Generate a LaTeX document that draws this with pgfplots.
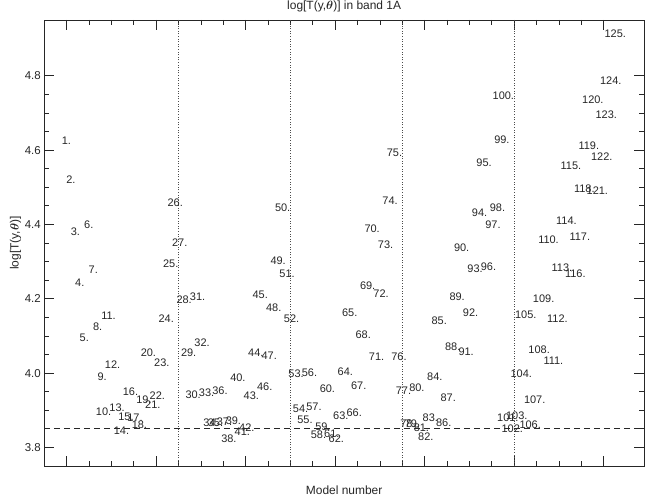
\documentclass[border=0pt]{standalone}
\usepackage{pgfplots}
\pgfplotsset{compat=1.18}
\usepackage{pgfplotstable}
\usepackage{amsmath}
\usepackage{fontspec}
\setmainfont{Liberation Sans}
\pgfplotstableread{
n v
1 4.624
2 4.521
3 4.380
4 4.244
5 4.095
6 4.400
7 4.278
8 4.126
9 3.991
10 3.895
11 4.155
12 4.023
13 3.908
14 3.846
15 3.883
16 3.949
17 3.880
18 3.861
19 3.927
20 4.055
21 3.916
22 3.938
23 4.029
24 4.146
25 4.294
26 4.459
27 4.351
28 4.198
29 4.056
30 3.942
31 4.205
32 4.083
33 3.946
34 3.866
35 3.866
36 3.953
37 3.869
38 3.823
39 3.871
40 3.988
41 3.843
42 3.853
43 3.938
44 4.054
45 4.211
46 3.962
47 4.046
48 4.176
49 4.303
50 4.445
51 4.266
52 4.145
53 3.998
54 3.904
55 3.875
56 4.002
57 3.909
58 3.834
59 3.855
60 3.958
61 3.837
62 3.823
63 3.886
64 4.003
65 4.162
66 3.892
67 3.967
68 4.103
69 4.235
70 4.389
71 4.043
72 4.214
73 4.346
74 4.465
75 4.592
76 4.043
77 3.953
78 3.864
79 3.865
80 3.960
81 3.853
82 3.828
83 3.880
84 3.989
85 4.142
86 3.866
87 3.933
88 4.070
89 4.206
90 4.338
91 4.057
92 4.162
93 4.281
94 4.432
95 4.566
96 4.287
97 4.399
98 4.444
99 4.628
100 4.746
101 3.880
102 3.850
103 3.885
104 3.998
105 4.157
106 3.862
107 3.929
108 4.064
109 4.200
110 4.360
111 4.032
112 4.146
113 4.284
114 4.411
115 4.559
116 4.268
117 4.366
118 4.496
119 4.613
120 4.736
121 4.490
122 4.583
123 4.694
124 4.788
125 4.914
}\models
\begin{document}
\begin{tikzpicture}
\path[use as bounding box] (0,0) rectangle (646bp,501bp);
\begin{axis}[
  at={(44.3bp,35bp)}, anchor=south west,
  width=599.7bp, height=446bp, scale only axis,
  xmin=-5, xmax=129, ymin=3.75, ymax=4.95,
  xtick={0,20,...,120}, minor x tick num=3, xticklabels={},
  ytick={3.8,4.0,...,4.81}, minor y tick num=3,
  yticklabel style={/pgf/number format/.cd, fixed, fixed zerofill, precision=1},
  /pgf/number format/assume math mode=true,
  tick align=inside, major tick length=10bp, minor tick length=5bp,
  axis line style={line width=0.8bp, black!85},
  every tick/.style={line width=0.7bp, black!85},
  ticklabel style={font=\fontsize{11.5}{13}\selectfont, text=black!85},
  title={log[T(y,$\boldsymbol{\theta}$)] in band 1A},
  title style={at={(0.5,1)}, anchor=south, inner sep=0pt, yshift=2bp, font=\fontsize{12}{13}\selectfont, text=black!85},
  xlabel={Model number},
  xlabel style={at={(axis description cs:0.5,0)}, anchor=center, yshift=-24bp, font=\fontsize{12}{14}\selectfont, text=black!85},
  ylabel={log[T(y,$\boldsymbol{\theta}$)]},
  ylabel style={at={(axis description cs:-0.048,0.5)}, anchor=center, font=\fontsize{12}{14}\selectfont, text=black!85},
  clip=false,
]
\addplot[black!70, line width=0.7bp, dash pattern=on 1bp off 1.6bp] coordinates {(25,3.75) (25,4.95)};
\addplot[black!70, line width=0.7bp, dash pattern=on 1bp off 1.6bp] coordinates {(50,3.75) (50,4.95)};
\addplot[black!70, line width=0.7bp, dash pattern=on 1bp off 1.6bp] coordinates {(75,3.75) (75,4.95)};
\addplot[black!70, line width=0.7bp, dash pattern=on 1bp off 1.6bp] coordinates {(100,3.75) (100,4.95)};
\addplot[black!85, line width=0.7bp, dash pattern=on 6bp off 4bp] coordinates {(-5,3.85) (129,3.85)};
\addplot[only marks, mark=none, point meta=explicit symbolic,
  nodes near coords={\pgfplotspointmeta.},
  every node near coord/.append style={anchor=east, inner sep=0pt, font=\fontsize{11}{12}\selectfont, text=black!85}]
  table[x index=0, y index=1, meta index=0] {\models};
\end{axis}
\end{tikzpicture}
\end{document}
